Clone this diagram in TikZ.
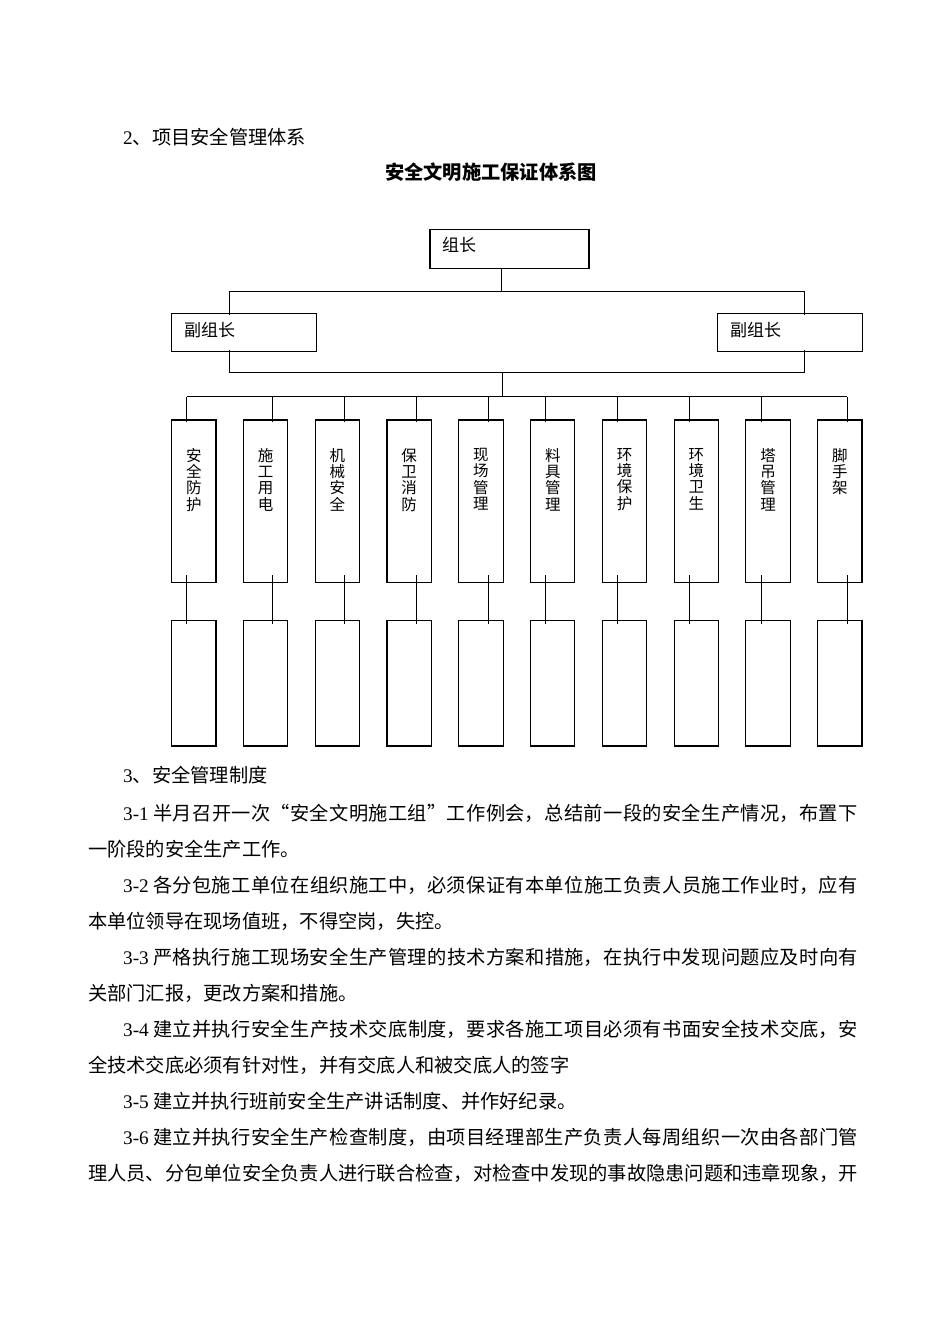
\documentclass[tikz,border=0pt]{standalone}
\usepackage{fontspec}
\setmainfont{Noto Sans CJK SC}
\newfontfamily\latinfont{Liberation Serif}
\newcommand\lt[1]{{\latinfont #1}}
\XeTeXlinebreaklocale "zh"
\XeTeXlinebreakskip=0pt plus 1fil
\usetikzlibrary{positioning}

\tikzset{
  orgbox/.style={draw, line width=1.1pt, inner sep=0pt, outer sep=0pt},
  linkline/.style={line width=1pt},
  txt/.style={anchor=base west, inner sep=0pt, font=\fontsize{19.25}{36}\selectfont},
  fulltxt/.style={txt, text width=#1, align=justify},
  boxlabel/.style={anchor=base west, inner sep=0pt, font=\fontsize{17}{20}\selectfont},
  coltext/.style={anchor=north, inner sep=0pt, text width=16pt, align=center, font=\fontsize{15.5}{16.3}\selectfont}
}

\begin{document}
\begin{tikzpicture}[x=1pt, y=-1pt]
	\fill[white] (0,0) rectangle (950,1344);
	\useasboundingbox (0,0) rectangle (950,1344);
	
	\node[txt] (sec2) at (123,144) {\lt{2}、项目安全管理体系};
	\node[txt, anchor=base, font=\fontsize{19.25}{36}\selectfont\bfseries] (title) at (491,179) {安全文明施工保证体系图};
	
	% leader and deputies
	\node[orgbox, minimum width=159pt, minimum height=39pt] (zz) at (509.5,248.8) {};
	\node[boxlabel] (zzt) at (442,251.5) {组长};
	\node[orgbox, minimum width=144.3pt, minimum height=38.4pt] (fl) at (243.9,332.5) {};
	\node[boxlabel] (flt) at (184,336.5) {副组长};
	\node[orgbox, minimum width=145.5pt, minimum height=38.4pt] (fr) at (789.8,332.5) {};
	\node[boxlabel] (frt) at (730,336.5) {副组长};
	
	\coordinate (ja) at (501.7,291);
	\coordinate (fla) at (229.3,291);
	\coordinate (fra) at (804,291);
	\draw[linkline] (ja |- zz.south) -- (ja);
	\draw[linkline] (fla) -- (fra);
	\draw[linkline, shorten >=-2pt] (fla) -- (fla |- fl.north);
	\draw[linkline, shorten >=-2pt] (fra) -- (fra |- fr.north);
	
	\coordinate (flb) at (229.3,372.5);
	\coordinate (frb) at (804,372.5);
	\coordinate (mb) at (502.3,372.5);
	\coordinate (mc) at (502.3,396.7);
	\draw[linkline, shorten <=-2pt] (flb |- fl.south) -- (flb);
	\draw[linkline, shorten <=-2pt] (frb |- fr.south) -- (frb);
	\draw[linkline] (flb) -- (frb);
	\draw[linkline] (mb) -- (mc);
	
	% ten groups
	\coordinate (bl) at (186.7,396.7);
	\coordinate (br) at (847,396.7);
	\draw[linkline] (bl) -- (br);
	\foreach \name/\cx [count=\i from 0, evaluate=\i as \bx using 193.85+71.78*\i] in
		{安全防护/186.7, 施工用电/272.3, 机械安全/344.3, 保卫消防/416, 现场管理/488.3,
		 料具管理/545.7, 环境保护/617.7, 环境卫生/689.3, 塔吊管理/761, 脚手架/847}{
		\node[orgbox, minimum width=44.3pt, minimum height=162.7pt] (c\i) at (\bx,501.35) {};
		\node[coltext] (t\i) at (\bx,448) {\name};
		\node[orgbox, minimum width=44.3pt, minimum height=125.3pt] (d\i) at (\bx,683.35) {};
		\coordinate (k\i) at (\cx,396.7);
		\draw[linkline, shorten >=-1.7pt] (k\i) -- (k\i |- c\i.north);
		\draw[linkline, shorten <=-7.7pt, shorten >=-3.3pt] (k\i |- c\i.south) -- (k\i |- d\i.north);
	}
	
	% text below
	\node[txt] (sec3) at (123,782) {\lt{3}、安全管理制度};
	\node[fulltxt=735pt] (p1a) at (123,820) {\parfillskip=0pt\relax \lt{3-1} 半月召开一次“安全文明施工组”工作例会，总结前一段的安全生产情况，布置下};
	\node[txt] (p1b) at (88,856) {一阶段的安全生产工作。};
	\node[fulltxt=735pt] (p2a) at (123,892) {\parfillskip=0pt\relax \lt{3-2} 各分包施工单位在组织施工中，必须保证有本单位施工负责人员施工作业时，应有};
	\node[txt] (p2b) at (88,928) {本单位领导在现场值班，不得空岗，失控。};
	\node[fulltxt=735pt] (p3a) at (123,964) {\parfillskip=0pt\relax \lt{3-3} 严格执行施工现场安全生产管理的技术方案和措施，在执行中发现问题应及时向有};
	\node[txt] (p3b) at (88,1000) {关部门汇报，更改方案和措施。};
	\node[fulltxt=735pt] (p4a) at (123,1036) {\parfillskip=0pt\relax \lt{3-4} 建立并执行安全生产技术交底制度，要求各施工项目必须有书面安全技术交底，安};
	\node[txt] (p4b) at (88,1072) {全技术交底必须有针对性，并有交底人和被交底人的签字};
	\node[txt] (p5) at (123,1108) {\lt{3-5} 建立并执行班前安全生产讲话制度、并作好纪录。};
	\node[fulltxt=735pt] (p6a) at (123,1144) {\parfillskip=0pt\relax \lt{3-6} 建立并执行安全生产检查制度，由项目经理部生产负责人每周组织一次由各部门管};
	\node[fulltxt=770pt] (p6b) at (88,1180) {\parfillskip=0pt\relax 理人员、分包单位安全负责人进行联合检查，对检查中发现的事故隐患问题和违章现象，开};
\end{tikzpicture}
\end{document}
